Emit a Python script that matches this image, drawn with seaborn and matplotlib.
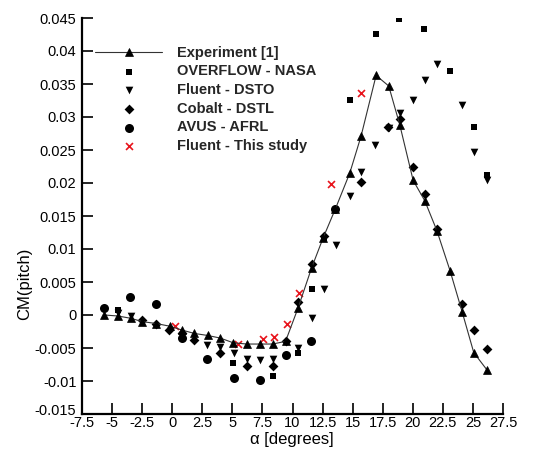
import matplotlib
matplotlib.use("Agg")
import matplotlib.pyplot as plt
import matplotlib.transforms as mtransforms
import seaborn as sns
import pandas as pd

# ---- data ----
exp_alpha = [-5.63, -4.52, -3.44, -2.49, -1.31, -0.2, 0.85, 1.85, 2.95, 4.0, 5.06, 6.18, 7.26, 8.34,
             9.42, 10.47, 11.58, 12.55, 13.57, 14.76, 15.7, 16.95, 18.0, 18.92, 20.03, 21.0, 22.0,
             23.1, 24.1, 25.07, 26.2]
exp_cm = [0.0, -0.00015, -0.0005, -0.001, -0.0013, -0.0017, -0.0023, -0.0028, -0.0031, -0.0035,
          -0.0042, -0.0044, -0.0044, -0.0044, -0.004, 0.0011, 0.0071, 0.0117, 0.0161, 0.0215,
          0.0271, 0.0363, 0.0347, 0.0288, 0.0204, 0.0173, 0.0128, 0.0067, 0.0005, -0.0057, -0.0084]

ovf_alpha = [-4.52, 5.06, 8.36, 10.44, 11.6, 12.6, 14.76, 16.95, 18.84, 20.9, 23.13, 25.13, 26.17]
ovf_cm = [0.0008, -0.0072, -0.0092, -0.0058, 0.0039, 0.0116, 0.0325, 0.0426, 0.0448, 0.0433,
          0.037, 0.0285, 0.0212]

dsto_alpha = [-4.5, -3.44, 2.9, 4.0, 5.1, 6.2, 7.3, 8.34, 10.44, 11.64, 12.63, 13.6, 14.78, 15.72,
              16.9, 18.0, 18.92, 20.03, 21.0, 22.0, 24.1, 25.07, 26.17]
dsto_cm = [0.0003, -0.0002, -0.0045, -0.0048, -0.0058, -0.0066, -0.0068, -0.0067, -0.005, -0.0004,
           0.0039, 0.0106, 0.018, 0.0217, 0.0258, 0.0283, 0.0306, 0.0326, 0.0356, 0.038, 0.0318,
           0.0247, 0.0205]

cob_alpha = [-2.49, -1.31, -0.25, 0.83, 1.85, 3.96, 6.2, 8.36, 9.42, 10.48, 11.58, 12.6, 15.68,
             17.95, 18.92, 20.03, 21.03, 22.0, 24.1, 25.07, 26.17]
cob_cm = [-0.0008, -0.0013, -0.0023, -0.0028, -0.0038, -0.0057, -0.0078, -0.0078, -0.0039, 0.002,
          0.0078, 0.012, 0.0201, 0.0285, 0.0297, 0.0224, 0.0183, 0.0131, 0.0017, -0.0023, -0.0052]

avus_alpha = [-5.63, -3.47, -1.31, 0.8, 2.93, 5.1, 7.28, 9.42, 11.56, 13.57]
avus_cm = [0.001, 0.0028, 0.0016, -0.0035, -0.0067, -0.0096, -0.0098, -0.006, -0.0039, 0.016]

study_alpha = [0.27, 5.45, 7.53, 8.5, 9.55, 10.58, 13.16, 15.73]
study_cm = [-0.0016, -0.0044, -0.0037, -0.0034, -0.0014, 0.0034, 0.0199, 0.0337]

xticks = [-7.5, -5, -2.5, 0, 2.5, 5, 7.5, 10, 12.5, 15, 17.5, 20, 22.5, 25, 27.5]
xtick_labels = ["-7.5", "-5", "-2.5", "0", "2.5", "5", "7.5", "10", "12.5", "15", "17.5", "20",
                "22.5", "25", "27.5"]
yticks = [-0.015, -0.01, -0.005, 0, 0.005, 0.01, 0.015, 0.02, 0.025, 0.03, 0.035, 0.04, 0.045]
ytick_labels = ["-0.015", "-0.01", "-0.005", "0", "0.005", "0.01", "0.015", "0.02", "0.025",
                "0.03", "0.035", "0.04", "0.045"]

labels = ["Experiment [1]", "OVERFLOW - NASA", "Fluent - DSTO", "Cobalt - DSTL", "AVUS - AFRL",
          "Fluent - This study"]

# ---- plotting ----
sns.set_theme(style="white")
plt.rcParams["font.family"] = ["Liberation Sans", "DejaVu Sans"]
plt.rcParams["axes.unicode_minus"] = False

fig = plt.figure(figsize=(5.37, 4.5), dpi=100)
ax = fig.add_axes([82 / 537, 1 - 414 / 450, 421 / 537, 396 / 450])

exp_df = pd.DataFrame({"alpha": exp_alpha, "cm": exp_cm})
sns.lineplot(data=exp_df, x="alpha", y="cm", ax=ax, sort=False, color="#333333", linewidth=0.8,
             marker="^", markersize=5.5, markerfacecolor="black", markeredgecolor="black",
             markeredgewidth=0.5, label=labels[0])

def scat(xs, ys, marker, size, color, label, lw=0.0):
    df = pd.DataFrame({"alpha": xs, "cm": ys})
    sns.scatterplot(data=df, x="alpha", y="cm", ax=ax, marker=marker, s=size ** 2, color=color,
                    edgecolor=color if marker != "x" else None, linewidth=lw, label=label)

scat(ovf_alpha, ovf_cm, "s", 4.2, "black", labels[1])
scat(dsto_alpha, dsto_cm, "v", 5.5, "black", labels[2])
scat(cob_alpha, cob_cm, "D", 5.0, "black", labels[3])
scat(avus_alpha, avus_cm, "o", 6.5, "black", labels[4])
scat(study_alpha, study_cm, "x", 5.0, "#e8141c", labels[5], lw=1.2)

ax.set_xlim(-7.5, 27.5)
ax.set_ylim(-0.015, 0.045)
ax.set_xticks(xticks)
ax.set_xticklabels(xtick_labels)
ax.set_yticks(yticks)
ax.set_yticklabels(ytick_labels)
ax.tick_params(axis="both", direction="in", length=8, width=1.2, colors="black", labelsize=10.5,
               left=True, bottom=True)
ax.tick_params(axis="x", pad=1.5)
ax.tick_params(axis="y", pad=4)

# lift the lowest y label a little, as in the reference
lowest = ax.get_yticklabels()[0]
lowest.set_transform(lowest.get_transform() +
                     mtransforms.ScaledTranslation(0, 3.5 / 72, fig.dpi_scale_trans))

for side in ["top", "right"]:
    ax.spines[side].set_visible(False)
for side in ["left", "bottom"]:
    ax.spines[side].set_color("black")
    ax.spines[side].set_linewidth(1.6)

ax.set_xlabel("\u03b1 [degrees]", fontsize=12, color="black")
ax.set_ylabel("CM(pitch)", fontsize=12, color="black")
ax.xaxis.set_label_coords(0.499, -0.045)
ax.yaxis.set_label_coords(-0.118, 0.33)

leg = ax.legend(loc="upper left", bbox_to_anchor=(0.031, 0.93), frameon=False, borderpad=0,
                borderaxespad=0, handlelength=4.6, handletextpad=1.0, labelspacing=0.32,
                prop={"weight": "bold", "size": 10.5})

fig.savefig("out.png", dpi=100)
